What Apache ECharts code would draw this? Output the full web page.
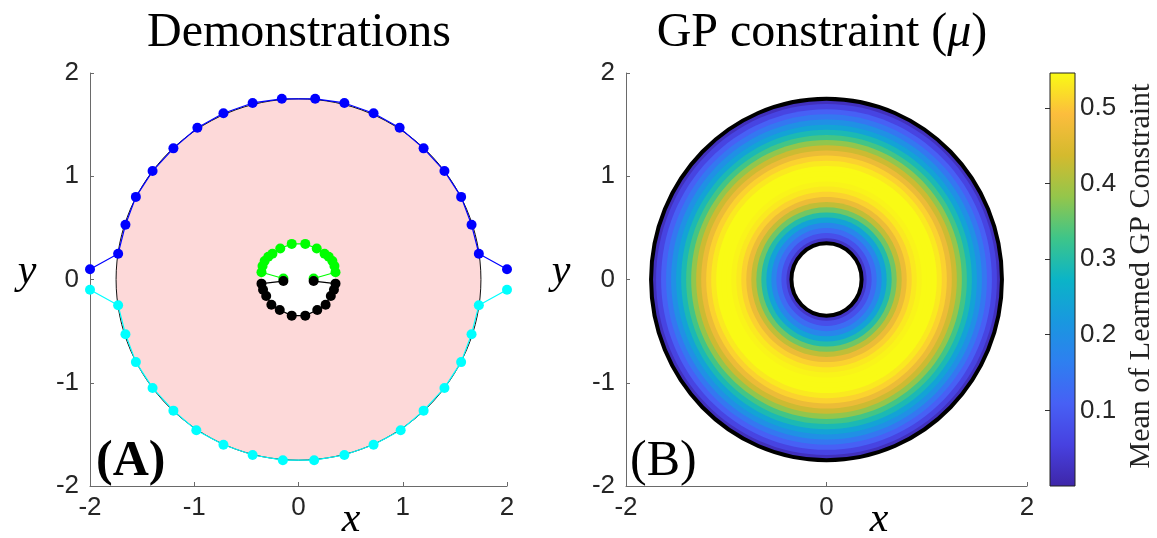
<!DOCTYPE html>
<html><head><meta charset="utf-8">
<script src="https://cdn.jsdelivr.net/npm/echarts@6/dist/echarts.min.js"></script>
<style>html,body{margin:0;padding:0;background:#fff}#c{width:1157px;height:538px}</style>
</head><body><div id="c"></div>
<script>
// ---------- data ----------
const axisMin = -2, axisMax = 2;
const blueDemo = [[-2.0,0.10],[-1.73,0.25],[-1.66,0.53],[-1.56,0.80],[-1.40,1.05],[-1.20,1.27],[-0.97,1.47],[-0.72,1.61],[-0.44,1.71],[-0.16,1.75],[0.16,1.75],[0.44,1.71],[0.72,1.61],[0.97,1.47],[1.20,1.27],[1.40,1.05],[1.56,0.80],[1.66,0.53],[1.73,0.25],[2.0,0.10]];
const cyanDemo = [[-2.0,-0.10],[-1.73,-0.25],[-1.66,-0.53],[-1.56,-0.80],[-1.40,-1.05],[-1.20,-1.27],[-0.98,-1.46],[-0.72,-1.60],[-0.44,-1.70],[-0.15,-1.75],[0.15,-1.75],[0.44,-1.70],[0.72,-1.60],[0.98,-1.46],[1.20,-1.27],[1.40,-1.05],[1.56,-0.80],[1.66,-0.53],[1.73,-0.25],[2.0,-0.10]];
const greenDemo = [[-0.145,0.01],[-0.355,0.07],[-0.345,0.13],[-0.325,0.18],[-0.29,0.22],[-0.25,0.25],[-0.175,0.30],[-0.065,0.345],[0.065,0.345],[0.175,0.30],[0.25,0.25],[0.29,0.22],[0.325,0.18],[0.345,0.13],[0.355,0.07],[0.145,0.01]];
const blackDemo = [[-0.145,-0.015],[-0.355,-0.04],[-0.34,-0.10],[-0.31,-0.16],[-0.26,-0.245],[-0.18,-0.295],[-0.065,-0.35],[0.065,-0.35],[0.18,-0.295],[0.26,-0.245],[0.31,-0.16],[0.34,-0.10],[0.355,-0.04],[0.145,-0.015]];
const unsafeOuterRadius = 1.75;
const unsafeInnerRadius = 0.35;
// GP mean, radial profile (outer radius of each band -> value)
const ringOuterRadii = [1.75,1.70,1.65,1.60,1.55,1.50,1.45,1.40,1.35,1.30,1.25,1.20,1.15,1.10,1.05,1.00,0.95,0.90,0.85,0.80,0.75,0.70,0.65,0.60,0.55,0.50,0.45,0.40];
const ringMeanValues = [0.02,0.06,0.11,0.15,0.20,0.24,0.29,0.33,0.38,0.43,0.47,0.51,0.53,0.545,0.545,0.545,0.54,0.53,0.51,0.47,0.42,0.36,0.30,0.24,0.18,0.13,0.08,0.03];
const colorbarMax = 0.546;
const colorbarTicks = [0.1,0.2,0.3,0.4,0.5];
const parula = ['#3E26A8','#4741E0','#4760F5','#2E7FF0','#1998DF','#0BB4C7','#3EC589','#94C64B','#D4BA2E','#FCBD3D','#F9FB14'];

// ---------- chart ----------
const chart = echarts.init(document.getElementById('c'));
const sans = "'Liberation Sans', Arial, sans-serif";
const serif = "'Liberation Serif', 'DejaVu Serif', serif";

function disk(fill, stroke, lw) {
  return function (params, api) {
    const c = api.coord([api.value(0), api.value(1)]);
    const s = api.size([api.value(2), api.value(2)]);
    return { type: 'ellipse', shape: { cx: c[0], cy: c[1], rx: s[0], ry: s[1] },
      style: { fill: fill === null ? 'none' : (fill || api.visual('color')), stroke: stroke || null, lineWidth: lw || 0 } };
  };
}

const ringData = ringOuterRadii.map((r, i) => [0, 0, r, ringMeanValues[i]]);

function xAxisCfg(grid, interval) {
  return { gridIndex: grid, type: 'value', min: axisMin, max: axisMax, interval: interval,
    axisLine: { show: true, onZero: false, lineStyle: { color: '#6a6a6a', width: 1 } },
    axisTick: { show: true, inside: true, length: 4, lineStyle: { color: '#6a6a6a' } },
    axisLabel: { color: '#262626', fontFamily: sans, fontSize: 26, margin: 9 },
    splitLine: { show: false } };
}
function yAxisCfg(grid) {
  return { gridIndex: grid, type: 'value', min: axisMin, max: axisMax, interval: 1,
    axisLine: { show: true, onZero: false, lineStyle: { color: '#6a6a6a', width: 1 } },
    axisTick: { show: true, inside: true, length: 4, lineStyle: { color: '#6a6a6a' } },
    axisLabel: { color: '#262626', fontFamily: sans, fontSize: 26, margin: 11 },
    splitLine: { show: false } };
}
function lineSeries(data, color) {
  return { type: 'line', xAxisIndex: 0, yAxisIndex: 0, data: data, clip: false,
    symbol: 'circle', symbolSize: 10, showSymbol: true, animation: false,
    lineStyle: { color: color, width: 1.2 }, itemStyle: { color: color } };
}

chart.setOption({
  animation: false,
  grid: [
    { left: 90, top: 73, width: 417, height: 413 },
    { left: 626, top: 73, width: 401, height: 413 },
    { left: 1050, top: 73, width: 25, height: 413 }
  ],
  xAxis: [ xAxisCfg(0, 1), xAxisCfg(1, 2),
    { gridIndex: 2, type: 'value', min: 0, max: 1, show: false } ],
  yAxis: [ yAxisCfg(0), yAxisCfg(1),
    { gridIndex: 2, type: 'value', position: 'right', min: 0, max: colorbarMax, interval: 0.1,
      axisLine: { show: false },
      axisTick: { show: true, inside: true, length: 5, lineStyle: { color: '#333' } },
      axisLabel: { color: '#262626', fontFamily: sans, fontSize: 26, margin: 5,
        showMinLabel: false, showMaxLabel: false,
        formatter: v => (colorbarTicks.some(t => Math.abs(t - v) < 1e-6) ? v.toFixed(1) : '') },
      splitLine: { show: false } } ],
  visualMap: [{ type: 'continuous', show: false, seriesIndex: 6, dimension: 3,
    min: 0, max: colorbarMax, inRange: { color: parula } }],
  series: [
    // 0: unsafe set (pink disk with black outline)
    { type: 'custom', xAxisIndex: 0, yAxisIndex: 0, renderItem: disk('#FDD9D9', '#111', 1),
      data: [[0, 0, unsafeOuterRadius]], silent: true, z: 1 },
    // 1: inner white disk
    { type: 'custom', xAxisIndex: 0, yAxisIndex: 0, renderItem: disk('#ffffff', null, 0),
      data: [[0, 0, unsafeInnerRadius]], silent: true, z: 1 },
    // 2-5: demonstrations
    lineSeries(blueDemo, '#0000FF'),
    lineSeries(cyanDemo, '#00FFFF'),
    lineSeries(greenDemo, '#00FF00'),
    lineSeries(blackDemo, '#000000'),
    // 6: GP mean rings
    { type: 'custom', xAxisIndex: 1, yAxisIndex: 1, renderItem: disk(undefined, null, 0),
      encode: { x: 0, y: 1 }, data: ringData, silent: true, z: 1 },
    // 7: inner hole with border
    { type: 'custom', xAxisIndex: 1, yAxisIndex: 1, renderItem: disk('#ffffff', '#000', 4),
      data: [[0, 0, unsafeInnerRadius]], silent: true, z: 2 },
    // 8: outer border
    { type: 'custom', xAxisIndex: 1, yAxisIndex: 1, renderItem: disk(null, '#000', 4),
      data: [[0, 0, unsafeOuterRadius]], silent: true, z: 2 },
    // 9: colorbar
    { type: 'custom', xAxisIndex: 2, yAxisIndex: 2, silent: true,
      data: [[0, colorbarMax]],
      renderItem: function (params, api) {
        const p0 = api.coord([0, 0]);
        const p1 = api.coord([1, api.value(1)]);
        const stops = parula.map((c, i) => ({ offset: i / (parula.length - 1), color: c }));
        return { type: 'rect', shape: { x: p0[0], y: p1[1], width: p1[0] - p0[0], height: p0[1] - p1[1] },
          style: { fill: new echarts.graphic.LinearGradient(0, 1, 0, 0, stops), stroke: '#222', lineWidth: 1 } };
      } }
  ],
  graphic: [
    { type: 'text', x: 299, y: 33, style: { text: 'Demonstrations', font: '48px ' + serif, fill: '#000', textAlign: 'center', textVerticalAlign: 'middle' } },
    { type: 'text', x: 822, y: 33, style: { text: '{n|GP constraint (}{i|μ}{n|)}', textAlign: 'center', textVerticalAlign: 'middle',
        rich: { n: { font: '48px ' + serif, fill: '#000' }, i: { font: 'italic 48px ' + serif, fill: '#000' } } } },
    { type: 'text', x: 351, y: 520, style: { text: 'x', font: 'italic 42px ' + serif, fill: '#000', textAlign: 'center', textVerticalAlign: 'middle' } },
    { type: 'text', x: 879, y: 520, style: { text: 'x', font: 'italic 42px ' + serif, fill: '#000', textAlign: 'center', textVerticalAlign: 'middle' } },
    { type: 'text', x: 27, y: 272, style: { text: 'y', font: 'italic 42px ' + serif, fill: '#000', textAlign: 'center', textVerticalAlign: 'middle' } },
    { type: 'text', x: 561, y: 272, style: { text: 'y', font: 'italic 42px ' + serif, fill: '#000', textAlign: 'center', textVerticalAlign: 'middle' } },
    { type: 'text', x: 310, y: 385, style: { text: 'True unsafe set', font: '25px ' + serif, fill: '#111', textAlign: 'center', textVerticalAlign: 'middle' } },
    { type: 'text', x: 96, y: 462, style: { text: '(A)', font: 'bold 50px ' + serif, fill: '#000', textAlign: 'left', textVerticalAlign: 'middle' } },
    { type: 'text', x: 630, y: 462, style: { text: '(B)', font: '50px ' + serif, fill: '#000', textAlign: 'left', textVerticalAlign: 'middle' } },
    { type: 'text', x: 1141, y: 276, rotation: Math.PI / 2, style: { text: 'Mean of Learned GP Constraint', font: '30px ' + serif, fill: '#222', textAlign: 'center', textVerticalAlign: 'middle' } }
  ]
});
</script></body></html>
